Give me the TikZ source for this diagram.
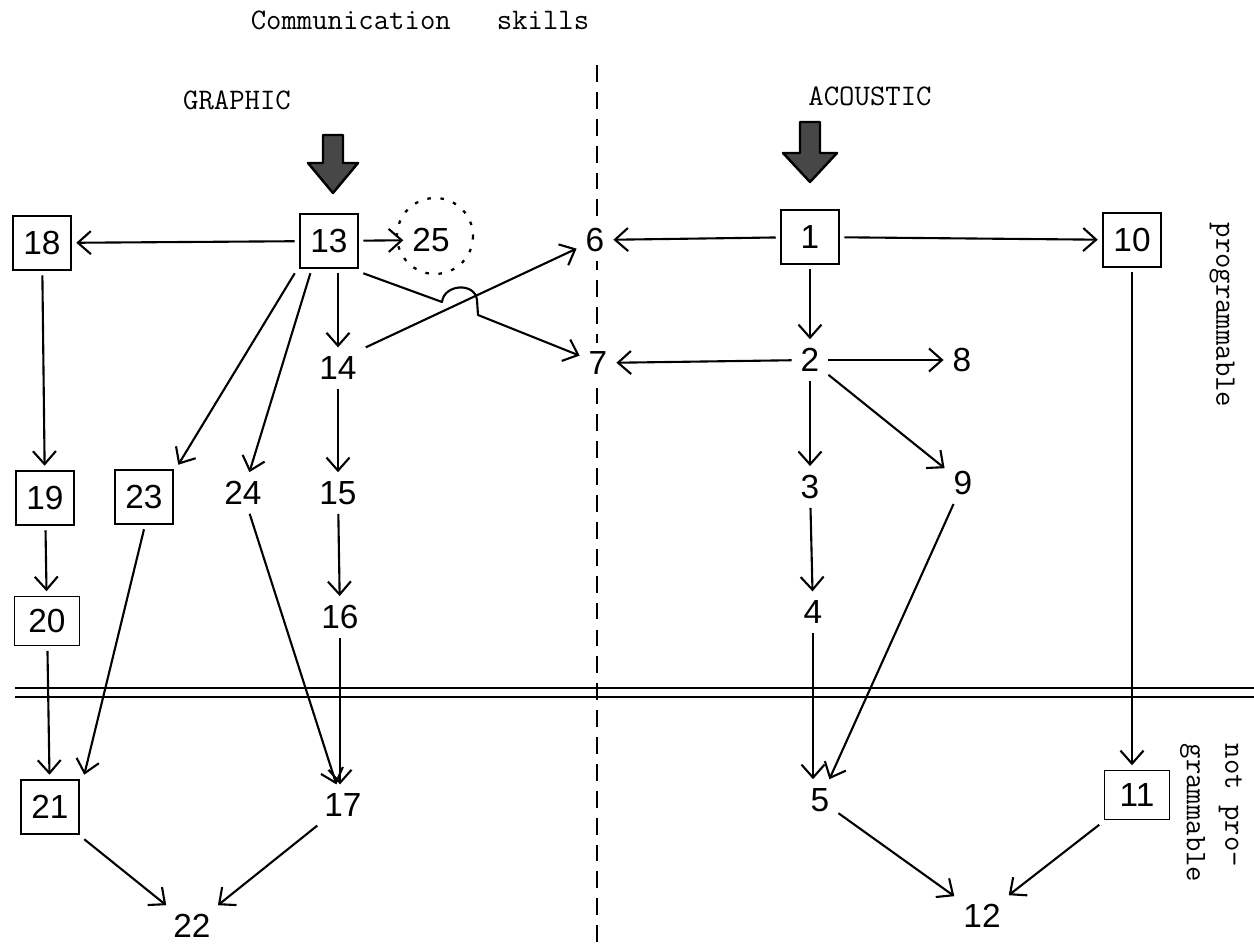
\documentclass[tikz,border=0pt]{standalone}
\usepackage{fontspec}
\setmainfont{Liberation Sans}
\usetikzlibrary{arrows.meta,calc}
\begin{document}
\begin{tikzpicture}[x=0.02cm,y=-0.02cm,
  num/.style={inner sep=5pt, font=\fontsize{19}{19}\selectfont},
  bx/.style={draw, line width=1.1pt, minimum width=1.16cm, minimum height=1.08cm, inner sep=2pt, outer sep=3pt, font=\fontsize{19}{19}\selectfont},
  wbx/.style={bx, minimum width=1.3cm, minimum height=0.98cm},
  arr/.style={line width=1.2pt, -{Straight Barb[length=2.6mm,width=4.6mm]}},
  lbl/.style={font=\ttfamily\fontsize{17}{22}\selectfont},
  bigarrow/.style={fill=black!72, draw=black, line width=1.4pt, line join=round},
  sep/.style={line width=1.3pt},
  dsep/.style={line width=1.3pt, dash pattern=on 9.6pt off 5.7pt},
  dots/.style={line width=1.3pt, dash pattern=on 2pt off 5.5pt}
]
\useasboundingbox (0,0) rectangle (1254,945);

% separators
\draw[dsep] (597,65) -- (597,945);
\draw[sep] (15,688) -- (1254,688);
\draw[sep] (15,697) -- (1254,697);

% labels
\node[lbl] (title) at (420,20) {Communication\ \ \ skills};
\node[lbl] (graphic) at (237,100) {GRAPHIC};
\node[lbl] (acoustic) at (870,96) {ACOUSTIC};
\node[lbl, rotate=-90] (prog) at (1222,315) {programmable};
\node[lbl, rotate=-90, align=left] (notprog) at (1211,813) {not pro-\\grammable};

% nodes
\node[bx] (n13) at (329,241) {13};
\node[bx] (n18) at (42,243) {18};
\node[num] (n25) at (431,240) {25};
\node[num, fill=white] (n6) at (595,240) {6};
\node[bx] (n1) at (810,237) {1};
\node[bx] (n10) at (1132,240) {10};
\node[num] (n14) at (338,368) {14};
\node[num, fill=white] (n7) at (598,363) {7};
\node[num] (n2) at (810,360) {2};
\node[num] (n8) at (962,360) {8};
\node[bx] (n19) at (45,498) {19};
\node[bx] (n23) at (144,497) {23};
\node[num] (n24) at (243,493) {24};
\node[num] (n15) at (338,493) {15};
\node[num] (n3) at (810,487) {3};
\node[num] (n9) at (963,483) {9};
\node[wbx] (n20) at (47,621) {20};
\node[num] (n16) at (340,617) {16};
\node[num] (n4) at (813,612) {4};
\node[bx] (n21) at (50,807) {21};
\node[num] (n17) at (343,805) {17};
\node[num] (n5) at (820,800) {5};
\node[wbx] (n11) at (1137,795) {11};
\node[num] (n22) at (192,926) {22};
\node[num] (n12) at (982,916) {12};

% dotted circle around 25
\draw[dots] ($(n25)+(4,-4)$) circle[radius=38];

% big input arrows
\coordinate (ga) at (333,193);
\coordinate (aa) at (810,182);
\draw[bigarrow] ($(ga)+(-10,-58)$) -- ($(ga)+(10,-58)$) -- ($(ga)+(10,-30)$) -- ($(ga)+(25,-30)$) -- (ga) -- ($(ga)+(-25,-30)$) -- ($(ga)+(-10,-30)$) -- cycle;
\draw[bigarrow] ($(aa)+(-10,-60)$) -- ($(aa)+(10,-60)$) -- ($(aa)+(10,-29)$) -- ($(aa)+(27,-29)$) -- (aa) -- ($(aa)+(-27,-29)$) -- ($(aa)+(-10,-29)$) -- cycle;

% graphic side connectors
\draw[arr] (n13) -- (n18);
\draw[arr] (n13) -- (n25);
\draw[arr] (n13.south -| n14) -- (n14);
\draw[arr] (n13.south west) -- (n23.north east);
\draw[arr] (n13.240) -- (n24);
\coordinate (hA) at (442,302);
\coordinate (hB) at (477,300);
\coordinate (hC) at (478,315);
\draw[arr, line join=round] (n13.south east) -- (hA) .. controls (444,284) and (475,282) .. (hB) -- (hC) -- (n7);
\draw[arr] (n14.north east) -- (n6);
\draw[arr] (n14) -- (n15);
\draw[arr] (n15) -- (n16);
\draw[arr] (n16) -- (n17.north -| n16);
\draw[arr] (n24) -- (n17);
\draw[arr] (n18) -- (n19);
\draw[arr] (n19) -- (n20);
\draw[arr] (n20) -- (n21);
\draw[arr] (n23.south) -- (n21.north east);
\draw[arr] (n21.south east) -- (n22);
\draw[arr] (n17) -- (n22);

% acoustic side connectors
\draw[arr] (n1) -- (n6);
\draw[arr] (n1) -- (n10);
\draw[arr] (n1) -- (n2);
\draw[arr] (n2) -- (n7);
\draw[arr] (n2) -- (n8);
\draw[arr] (n2) -- (n3);
\draw[arr] (n2) -- (n9);
\draw[arr] (n3) -- (n4);
\draw[arr] (n4) -- (n5.north -| n4);
\draw[arr] (n9) -- (n5);
\draw[arr] (n10) -- (n10 |- n11.north);
\draw[arr] (n5) -- (n12);
\draw[arr] (n11.south west) -- (n12);
\end{tikzpicture}
\end{document}
